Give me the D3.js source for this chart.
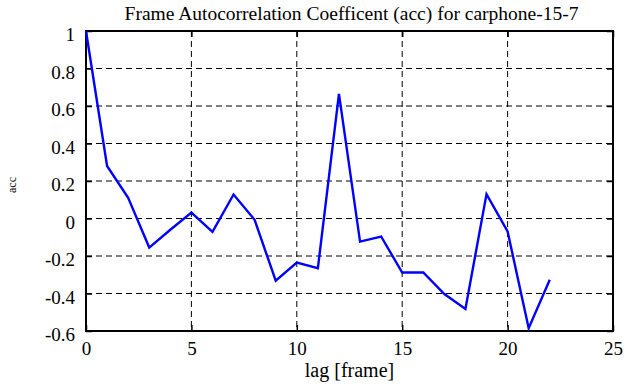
<!DOCTYPE html>
<html>
<head>
<meta charset="utf-8">
<script src="https://cdn.jsdelivr.net/npm/d3@7"></script>
<style>
  body { margin: 0; background: #fff; }
  svg text { font-family: "Liberation Serif", "DejaVu Serif", serif; fill: #000; }
  .gridline { stroke: #000; stroke-width: 1; stroke-dasharray: 6,4; }
</style>
</head>
<body>
<div id="chart"></div>
<script>
var lags = [0,1,2,3,4,5,6,7,8,9,10,11,12,13,14,15,16,17,18,19,20,21,22];
var acc = [1.0,0.28,0.11,-0.155,-0.06,0.032,-0.071,0.128,-0.007,-0.332,-0.235,-0.265,0.665,-0.123,-0.096,-0.288,-0.288,-0.403,-0.482,0.13,-0.069,-0.585,-0.327];
var xticks = [0,5,10,15,20,25];
var yticks = [-0.6,-0.4,-0.2,0,0.2,0.4,0.6,0.8,1];

var width = 641, height = 387;
var margin = {top: 31, right: 28, bottom: 56, left: 86},
    w = width - margin.left - margin.right,
    h = height - margin.top - margin.bottom;

var serif = "'Liberation Serif', 'DejaVu Serif', serif";

var svg = d3.select("#chart").append("svg")
    .attr("width", width)
    .attr("height", height);

var g = svg.append("g").attr("transform", "translate(" + margin.left + "," + margin.top + ")");

var x = d3.scaleLinear().range([0, w]).domain([0, 25]),
    y = d3.scaleLinear().range([h, 0]).domain([-0.6, 1]);

// dashed grid
g.selectAll(".hgrid")
    .data(yticks.slice(1, -1))
    .enter().append("line")
    .attr("class", "gridline")
    .attr("x1", 0).attr("x2", w)
    .attr("y1", function(d) { return y(d); })
    .attr("y2", function(d) { return y(d); });

g.selectAll(".vgrid")
    .data(xticks.slice(1, -1))
    .enter().append("line")
    .attr("class", "gridline")
    .attr("y1", 0).attr("y2", h)
    .attr("x1", function(d) { return x(d); })
    .attr("x2", function(d) { return x(d); });

var fmt = function(d) { return String(+d.toFixed(1)); };

var xAxis = d3.axisBottom(x).tickValues(xticks).tickSize(-6).tickPadding(10.5).tickFormat(fmt),
    yAxis = d3.axisLeft(y).tickValues(yticks).tickSize(-6).tickPadding(11).tickFormat(fmt),
    xTop = d3.axisTop(x).tickValues(xticks).tickSize(-6).tickFormat(""),
    yRight = d3.axisRight(y).tickValues(yticks).tickSize(-6).tickFormat("");

function style(sel) {
  sel.attr("font-family", serif).attr("font-size", 19);
  sel.select(".domain").remove();
  sel.selectAll(".tick line").attr("stroke", "#000").attr("stroke-width", 1.5);
  sel.selectAll("text")
      .style("font-family", serif)
      .style("font-size", "19px")
      .attr("fill", "#000");
}

g.append("g").attr("transform", "translate(0," + h + ")").call(xAxis).call(style);
g.append("g").call(yAxis).call(style).selectAll("text").attr("dy", "0.52em");
g.append("g").call(xTop).call(style);
g.append("g").attr("transform", "translate(" + w + ",0)").call(yRight).call(style);

// frame
g.append("rect")
    .attr("width", w).attr("height", h)
    .attr("fill", "none")
    .attr("stroke", "#000")
    .attr("stroke-width", 2);

// acc series
var line = d3.line()
    .x(function(d, i) { return x(lags[i]); })
    .y(function(d) { return y(d); });

g.append("path")
    .datum(acc)
    .attr("d", line)
    .attr("fill", "none")
    .attr("stroke", "#0000ff")
    .attr("stroke-width", 2.4);

// title and axis labels
svg.append("text")
    .attr("x", margin.left + w / 2 + 2).attr("y", 20)
    .attr("text-anchor", "middle")
    .style("font-size", "19.5px")
    .text("Frame Autocorrelation Coefficent (acc) for carphone-15-7");

svg.append("text")
    .attr("x", margin.left + w / 2).attr("y", 377)
    .attr("text-anchor", "middle")
    .style("font-size", "20px")
    .text("lag [frame]");

svg.append("text")
    .attr("transform", "translate(16,185) rotate(-90)")
    .attr("text-anchor", "middle")
    .style("font-size", "12px")
    .text("acc");
</script>
</body>
</html>
